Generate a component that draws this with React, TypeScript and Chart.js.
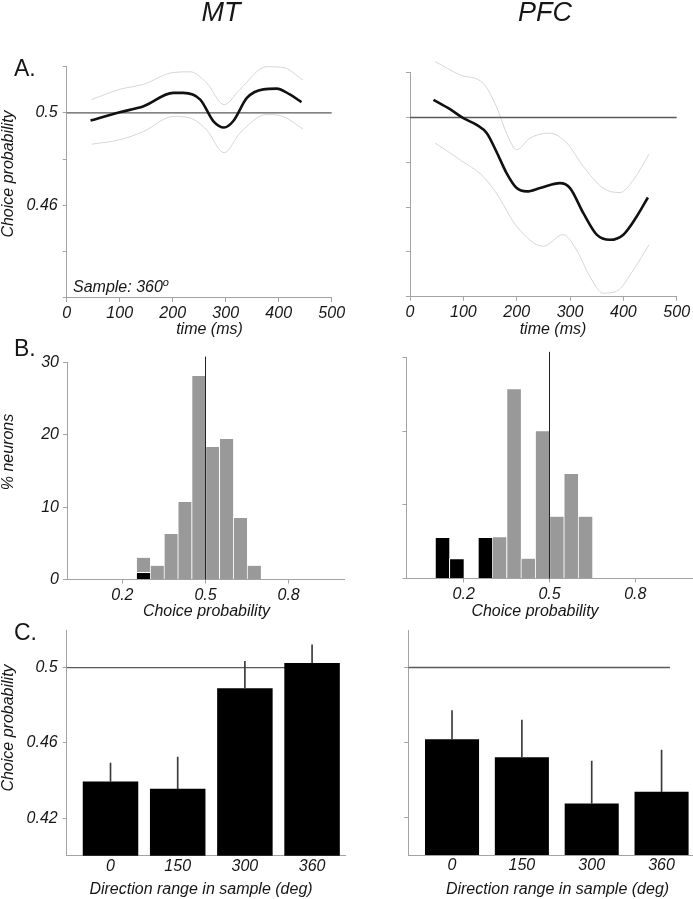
import React, { useEffect, useRef } from "react";
import { Chart, registerables } from "chart.js";

Chart.register(...registerables);

// ---------------- data ----------------
const columnTitles = ["MT", "PFC"];
const panelLetters = ["A.", "B.", "C."];
const sampleLabel = "Sample: 360";

// A. choice probability over time (ms)
const timeTicks = [0, 100, 200, 300, 400, 500];
const cpTickLabelsA = [0.5, 0.46];
const chanceLevel = 0.5;

const timeMT = [45, 100, 145, 201, 220, 252, 277, 297, 314, 340, 371, 396, 421, 443];
const cpMT = [0.4967, 0.5003, 0.5029, 0.5087, 0.5087, 0.5058, 0.4964, 0.4937, 0.4964, 0.5065, 0.5102, 0.5105, 0.508, 0.5047];
const ciTimeMT = [47, 100, 145, 201, 233, 264, 297, 327, 377, 408, 446];
const ciUpperMT = [0.5058, 0.5102, 0.5124, 0.5175, 0.5178, 0.513, 0.5036, 0.5102, 0.52, 0.5197, 0.5142];
const ciLowerMT = [0.4865, 0.4884, 0.492, 0.4985, 0.4978, 0.4927, 0.4828, 0.4913, 0.4993, 0.4985, 0.493];

const timePFC = [44, 75, 100, 125, 144, 162, 181, 200, 219, 244, 281, 300, 325, 350, 375, 400, 425, 446];
const cpPFC = [0.5079, 0.5037, 0.4997, 0.4967, 0.493, 0.4848, 0.4752, 0.4685, 0.467, 0.4685, 0.4707, 0.4685, 0.4573, 0.4477, 0.4454, 0.4477, 0.4558, 0.4643];
const ciUpperTimePFC = [47, 94, 137, 162, 181, 200, 225, 262, 294, 325, 362, 394, 419, 448];
const ciUpperPFC = [0.525, 0.519, 0.5153, 0.5049, 0.493, 0.4856, 0.4908, 0.493, 0.4886, 0.4781, 0.4685, 0.4665, 0.4722, 0.4836];
const ciLowerTimePFC = [47, 94, 137, 162, 200, 250, 287, 312, 337, 362, 387, 419, 448];
const ciLowerPFC = [0.4886, 0.4811, 0.4737, 0.4662, 0.4514, 0.4425, 0.4477, 0.441, 0.4291, 0.4216, 0.4224, 0.432, 0.4432];

// B. histograms of choice probability (% neurons), bin centres
const cpHistTicks = [0.2, 0.5, 0.8];
const pctTicks = [0, 10, 20, 30];
const binsMTGray = [0.275, 0.325, 0.375, 0.425, 0.475, 0.525, 0.575, 0.625, 0.675];
const pctMTGray = [3.0, 1.9, 6.3, 10.7, 28.1, 18.3, 19.4, 8.5, 1.9];
const binsMTBlack = [0.275];
const pctMTBlack = [1.0];
const binsPFCGray = [0.325, 0.375, 0.425, 0.475, 0.525, 0.575, 0.625];
const pctPFCGray = [5.6, 25.7, 2.7, 20.0, 8.4, 14.2, 8.4];
const binsPFCBlack = [0.125, 0.175, 0.275];
const pctPFCBlack = [5.6, 2.7, 5.6];

// C. choice probability by direction range
const dirCategories = ["0", "150", "300", "360"];
const cpTickLabelsC = [0.5, 0.46, 0.42];
const cpBarMT = [0.4395, 0.4356, 0.489, 0.5025];
const cpErrMT = [0.4493, 0.4525, 0.5034, 0.5121];
const cpBarPFC = [0.4617, 0.4521, 0.4275, 0.4338];
const cpErrPFC = [0.4770, 0.4720, 0.4501, 0.4560];

// ---------------- styling ----------------
const FONT = "'Liberation Sans', Arial, Helvetica, sans-serif";
const INK = "#161616";
const AXIS = "#a3a3a3";
const GRAYBAR = "#999999";
const CI = "#d6d6d6";
const PW = 693;
const PH = 899;

Chart.defaults.font.family = FONT;

const near = (v: number, list: number[]) => list.some((t) => Math.abs(t - v) < 1e-7);
const pts = (xs: number[], ys: any[]) => xs.map((x, i) => ({ x, y: ys[i] }));
const tickFont = { family: FONT, size: 16, style: "italic" as const };

type AxisOpts = {
  min: number;
  max: number;
  step?: number;
  ticks?: number[];
  label?: (v: number) => string;
  size: number;
  vertical: boolean;
  pad?: number;
  drawTicks?: boolean;
};

function linAxis(o: AxisOpts) {
  return {
    type: "linear",
    min: o.min,
    max: o.max,
    offset: false,
    beginAtZero: false,
    ticks: {
      stepSize: o.step,
      autoSkip: false,
      maxRotation: 0,
      color: INK,
      font: tickFont,
      padding: o.pad ?? 3,
      callback: (v: any) => (o.label ? o.label(Number(v)) : ""),
    },
    grid: {
      display: true,
      offset: false,
      drawOnChartArea: false,
      drawTicks: o.drawTicks ?? true,
      tickLength: 4,
      color: AXIS,
      lineWidth: 1,
    },
    border: { display: true, color: AXIS, width: 1 },
    afterBuildTicks: o.ticks
      ? (s: any) => {
          s.ticks = o.ticks!.map((value) => ({ value }));
        }
      : undefined,
    afterFit: (s: any) => {
      if (o.vertical) s.width = o.size;
      else s.height = o.size;
    },
  };
}

function baseOptions(L: number, T: number, R: number, B: number, Wy: number, Hx: number, scales: any) {
  return {
    responsive: false,
    maintainAspectRatio: false,
    animation: false,
    events: [],
    layout: { padding: { left: L - Wy, top: T, right: PW - R, bottom: PH - B - Hx } },
    plugins: { legend: { display: false }, tooltip: { enabled: false }, title: { display: false } },
    scales,
  };
}

// ---------- panel A ----------
function timeCourseConfig(
  isMT: boolean,
  t: number[],
  cp: number[],
  tU: number[],
  up: number[],
  tL: number[],
  lo: number[],
  box: number[]
) {
  const [L, T, R, B] = box;
  const Wy = isMT ? L : 20;
  const fmt = (v: number) => (near(v, cpTickLabelsA) ? String(+v.toFixed(2)) : "");
  return {
    type: "line",
    data: {
      datasets: [
        { data: pts(t, cp), borderColor: "#111", borderWidth: 2.6, pointRadius: 0, cubicInterpolationMode: "monotone", order: 0, clip: false },
        {
          data: [
            { x: timeTicks[0], y: chanceLevel },
            { x: timeTicks[timeTicks.length - 1], y: chanceLevel },
          ],
          borderColor: "#5a5a5a",
          borderWidth: 1.3,
          pointRadius: 0,
          order: 1,
          clip: false,
        },
        { data: pts(tU, up), borderColor: CI, borderWidth: 1, pointRadius: 0, cubicInterpolationMode: "monotone", order: 2, clip: false },
        { data: pts(tL, lo), borderColor: CI, borderWidth: 1, pointRadius: 0, cubicInterpolationMode: "monotone", order: 2, clip: false },
      ],
    },
    options: baseOptions(L, T, R, B, Wy, 30, {
      x: linAxis({
        min: timeTicks[0],
        max: timeTicks[timeTicks.length - 1],
        ticks: timeTicks,
        label: (v) => String(v),
        size: 30,
        vertical: false,
        pad: 2,
      }),
      y: linAxis({
        min: 0.42,
        max: 0.52,
        step: 0.02,
        label: isMT ? fmt : undefined,
        size: Wy,
        vertical: true,
        pad: 5,
      }),
    }),
  };
}

// ---------- panel B ----------
function histConfig(
  isMT: boolean,
  bGray: number[],
  vGray: number[],
  bBlack: number[],
  vBlack: number[],
  box: number[]
) {
  const [L, T, R, B] = box;
  const Wy = isMT ? L : 20;
  return {
    type: "bar",
    data: {
      datasets: [
        {
          type: "line",
          data: [
            { x: chanceLevel, y: pctTicks[0] },
            { x: chanceLevel, y: 30.8 },
          ],
          borderColor: "#222",
          borderWidth: 1,
          pointRadius: 0,
          clip: false,
          order: 0,
        },
        {
          type: "bar",
          data: pts(bBlack, vBlack),
          backgroundColor: "#000",
          borderColor: "#fff",
          borderWidth: { left: 1, top: 1, right: 0, bottom: 0 },
          grouped: false,
          barPercentage: 1,
          categoryPercentage: 1,
          order: 1,
        },
        {
          type: "bar",
          data: pts(bGray, vGray),
          backgroundColor: GRAYBAR,
          borderColor: "#fff",
          borderWidth: { left: 1, top: 0, right: 0, bottom: 0 },
          grouped: false,
          barPercentage: 1,
          categoryPercentage: 1,
          order: 2,
        },
      ],
    },
    options: baseOptions(L, T, R, B, Wy, 30, {
      x: linAxis({
        min: 0,
        max: 1,
        ticks: cpHistTicks,
        label: (v) => String(v),
        size: 30,
        vertical: false,
        pad: 2,
      }),
      y: linAxis({
        min: pctTicks[0],
        max: pctTicks[pctTicks.length - 1],
        ticks: pctTicks,
        label: isMT ? (v) => String(v) : undefined,
        size: Wy,
        vertical: true,
        pad: 4,
      }),
    }),
  };
}

// ---------- panel C ----------
function barConfig(
  isMT: boolean,
  vals: number[],
  errs: number[],
  box: number[],
  xRange: number[],
  lineEnd: number,
  barPct: number
) {
  const [L, T, R, B] = box;
  const Wy = isMT ? L : 20;
  const fmt = (v: number) => (near(v, cpTickLabelsC) ? String(+v.toFixed(2)) : "");
  const idx = dirCategories.map((_, i) => i);
  return {
    type: "bar",
    data: {
      datasets: [
        {
          type: "line",
          data: [
            { x: xRange[0], y: chanceLevel },
            { x: lineEnd, y: chanceLevel },
          ],
          borderColor: "#5a5a5a",
          borderWidth: 1.3,
          pointRadius: 0,
          order: 3,
        },
        {
          type: "bar",
          data: pts(idx, vals),
          backgroundColor: "#000",
          grouped: false,
          barPercentage: barPct,
          categoryPercentage: 1,
          order: 2,
        },
        {
          type: "bar",
          data: pts(
            idx,
            vals.map((v, i) => [v, errs[i]])
          ),
          backgroundColor: "#3a3a3a",
          barThickness: 1,
          grouped: false,
          order: 1,
        },
      ],
    },
    options: baseOptions(L, T, R, B, Wy, 30, {
      x: linAxis({
        min: xRange[0],
        max: xRange[1],
        ticks: idx,
        label: (v) => dirCategories[Math.round(v)] ?? "",
        size: 30,
        vertical: false,
        pad: 1,
        drawTicks: false,
      }),
      y: linAxis({
        min: 0.4,
        max: 0.52,
        ticks: cpTickLabelsC,
        label: isMT ? fmt : undefined,
        size: Wy,
        vertical: true,
        pad: 5,
      }),
    }),
  };
}

function ChartLayer({ make }: { make: () => any }) {
  const ref = useRef<HTMLCanvasElement>(null);
  useEffect(() => {
    const chart = new Chart(ref.current as HTMLCanvasElement, make());
    return () => chart.destroy();
  }, []);
  return (
    <canvas
      ref={ref}
      width={PW}
      height={PH}
      style={{ position: "absolute", left: 0, top: 0, width: PW, height: PH }}
    />
  );
}

// text whose baseline sits at y
function Txt(props: { x: number; y: number; size: number; italic?: boolean; center?: boolean; children: any }) {
  const { x, y, size, italic, center, children } = props;
  return (
    <div
      style={{
        position: "absolute",
        left: x,
        top: y - 0.8465 * size,
        fontFamily: FONT,
        fontSize: size,
        lineHeight: `${size}px`,
        fontStyle: italic ? "italic" : "normal",
        whiteSpace: "nowrap",
        color: INK,
        transform: center ? "translateX(-50%)" : undefined,
      }}
    >
      {children}
    </div>
  );
}

// vertical text: baseline at x, centred on y, reading upward
function VTxt(props: { x: number; y: number; size: number; children: any }) {
  const { x, y, size, children } = props;
  return (
    <div
      style={{
        position: "absolute",
        left: x - 0.8465 * size,
        top: y,
        fontFamily: FONT,
        fontSize: size,
        lineHeight: `${size}px`,
        fontStyle: "italic",
        whiteSpace: "nowrap",
        color: INK,
        transformOrigin: "0 0",
        transform: "rotate(-90deg) translateX(-50%)",
      }}
    >
      {children}
    </div>
  );
}

export default function App() {
  return (
    <div
      style={{
        position: "absolute",
        left: 0,
        top: 0,
        width: PW,
        height: PH,
        background: "#fff",
        overflow: "hidden",
      }}
    >
      <ChartLayer make={() => timeCourseConfig(true, timeMT, cpMT, ciTimeMT, ciUpperMT, ciTimeMT, ciLowerMT, [66.7, 66.7, 331.7, 298])} />
      <ChartLayer make={() => timeCourseConfig(false, timePFC, cpPFC, ciUpperTimePFC, ciUpperPFC, ciLowerTimePFC, ciLowerPFC, [410, 72.7, 676.7, 296.7])} />
      <ChartLayer make={() => histConfig(true, binsMTGray, pctMTGray, binsMTBlack, pctMTBlack, [67, 362.3, 344, 579.5])} />
      <ChartLayer make={() => histConfig(false, binsPFCGray, pctPFCGray, binsPFCBlack, pctPFCBlack, [406.5, 357.7, 692.5, 578.5])} />
      <ChartLayer make={() => barConfig(true, cpBarMT, cpErrMT, [66.7, 630, 345, 855.7], [-0.652, 3.49], 3.4, 0.826)} />
      <ChartLayer make={() => barConfig(false, cpBarPFC, cpErrPFC, [408.3, 630, 693, 855], [-0.626, 3.45], 3.12, 0.774)} />

      <Txt x={221} y={21.7} size={27} italic center>{columnTitles[0]}</Txt>
      <Txt x={545} y={21.7} size={27} italic center>{columnTitles[1]}</Txt>

      <Txt x={14} y={76.7} size={23}>{panelLetters[0]}</Txt>
      <Txt x={14} y={356.7} size={23}>{panelLetters[1]}</Txt>
      <Txt x={14} y={640} size={23}>{panelLetters[2]}</Txt>

      <Txt x={73} y={293} size={16} italic>
        {sampleLabel}
        <span style={{ fontSize: 11, position: "relative", top: -6, lineHeight: 0 }}>o</span>
      </Txt>

      <Txt x={209.5} y={335} size={16} italic center>time (ms)</Txt>
      <Txt x={553} y={335} size={16} italic center>time (ms)</Txt>
      <Txt x={206.5} y={617} size={16} italic center>Choice probability</Txt>
      <Txt x={535} y={617} size={16} italic center>Choice probability</Txt>
      <Txt x={201} y={895} size={16} italic center>Direction range in sample (deg)</Txt>
      <Txt x={557.5} y={895} size={16} italic center>Direction range in sample (deg)</Txt>

      <VTxt x={13.5} y={173.5} size={16}>Choice probability</VTxt>
      <VTxt x={13.5} y={451.5} size={16}>% neurons</VTxt>
      <VTxt x={13.5} y={727.5} size={16}>Choice probability</VTxt>
    </div>
  );
}
